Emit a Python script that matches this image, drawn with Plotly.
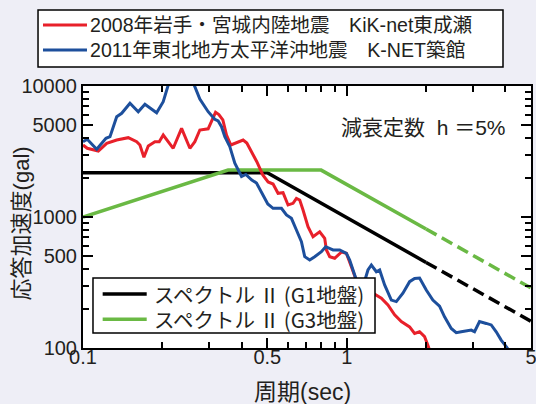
import math
import plotly.graph_objects as go

# ---- data ----
period_red = [0.1, 0.1038, 0.1143, 0.123, 0.1342, 0.1485, 0.1598, 0.1644, 0.1702, 0.1768,
              0.1874, 0.1946, 0.2015, 0.2105, 0.2198, 0.2365, 0.2543, 0.2656, 0.2774, 0.2983,
              0.3054, 0.3182, 0.3275, 0.3391, 0.3502, 0.3636, 0.4048, 0.4181, 0.4562, 0.4806,
              0.5034, 0.5258, 0.5491, 0.5736, 0.5992, 0.6259, 0.6447, 0.6636, 0.683, 0.7134,
              0.7452, 0.79, 0.8254, 0.8377, 0.8622, 0.9006, 0.9548, 0.9974, 1.0418, 1.1035,
              1.17, 1.2584, 1.3535, 1.4335, 1.5199, 1.6113, 1.7322, 1.8093, 1.8899, 1.974,
              2.032, 2.063]
sa_red = [3545, 3346, 3191, 3653, 3871, 4031, 3757, 3545, 2856, 3483,
          3757, 3757, 4226, 3757, 3346, 4754, 3346, 3757, 4614, 4712,
          5192, 6298, 6059, 5502, 4226, 3545, 3871, 3672, 2643, 2093,
          1850, 1786, 1517, 1533, 1235, 1272, 1389, 1349, 1131, 843,
          707, 772, 688, 560, 498, 484, 540, 528, 418, 303,
          269, 262, 240, 213, 179, 159, 145, 129, 133, 122,
          105, 96]

period_blue = [0.1, 0.1038, 0.1127, 0.1222, 0.1266, 0.1342, 0.1402, 0.1507, 0.162, 0.1717,
               0.1902, 0.2015, 0.2105, 0.235, 0.264, 0.2774, 0.2983, 0.3162, 0.3255, 0.3352,
               0.345, 0.3604, 0.3765, 0.3821, 0.3992, 0.4144, 0.4367, 0.455, 0.4765, 0.5021,
               0.5258, 0.5657, 0.5909, 0.6172, 0.6447, 0.6735, 0.6932, 0.7241, 0.7563, 0.8018,
               0.8324, 0.8876, 0.9408, 0.9974, 1.0265, 1.0882, 1.1527, 1.2041, 1.2404, 1.2957,
               1.3335, 1.3928, 1.4767, 1.5425, 1.6339, 1.7322, 1.8093, 1.8899, 2.0034, 2.1221,
               2.2497, 2.3503, 2.492, 2.603, 2.719, 2.968, 3.054, 3.19, 3.382, 3.533,
               3.69, 3.854, 4.082]
sa_blue = [3757, 3920, 3288, 3990, 4104, 5832, 6187, 7378, 6364, 7250,
           6253, 7588, 10177, 18000, 10177, 7960, 6364, 5569, 5405, 4890,
           4104, 3441, 2570, 2421, 2038, 2111, 1916, 1818, 1525, 1257,
           1165, 1165, 1036, 977, 796, 648, 498, 470, 498, 543,
           593, 560, 560, 528, 470, 330, 294, 394, 430, 382,
           394, 303, 232, 226, 262, 321, 340, 342, 277, 232,
           209, 173, 141, 131, 133, 137, 133, 159, 154, 150,
           133, 115, 99]

g1_period = [0.1, 0.5, 2.0]
g1_sa = [2180, 2180, 450]
g1_period_ext = [2.0, 5.0]
g1_sa_ext = [450, 160]

g3_period = [0.1, 0.355, 0.8, 2.0]
g3_sa = [1000, 2280, 2280, 810]
g3_period_ext = [2.0, 5.0]
g3_sa_ext = [810, 287]

x_tickvals = [0.1, 0.5, 1, 5]
x_ticktext = ["0.1", "0.5", "1", "5"]
x_minor = [0.2, 0.3, 0.4, 0.6, 0.7, 0.8, 0.9, 2, 3, 4]
y_tickvals = [100, 500, 1000, 5000, 10000]
y_ticktext = ["100", "500", "1000", "5000", "10000"]
y_minor = [200, 300, 400, 600, 700, 800, 900, 2000, 3000, 4000, 6000, 7000, 8000, 9000]

name_red = "2008年岩手・宮城内陸地震　KiK-net東成瀬"
name_blue = "2011年東北地方太平洋沖地震　K-NET築館"
name_g1 = "スペクトル\u2009Ⅱ\u2009(G1地盤)"
name_g3 = "スペクトル\u2009Ⅱ\u2009(G3地盤)"

FONT = "Liberation Sans, Arial, Noto Sans CJK JP, sans-serif"
FONT_CJK = "Noto Sans CJK JP, Liberation Sans, sans-serif"
RED = "#E8202A"
BLUE = "#1D4F9C"
GREEN = "#6AB944"
BLACK = "#000000"
TXT = "#231F20"

fig = go.Figure()
fig.add_trace(go.Scatter(x=g1_period, y=g1_sa, mode="lines", name="G1",
                         line=dict(color=BLACK, width=3.5)))
fig.add_trace(go.Scatter(x=g1_period_ext, y=g1_sa_ext, mode="lines",
                         line=dict(color=BLACK, width=3.5, dash="12px,6px")))
fig.add_trace(go.Scatter(x=g3_period, y=g3_sa, mode="lines", name="G3",
                         line=dict(color=GREEN, width=3.5)))
fig.add_trace(go.Scatter(x=g3_period_ext, y=g3_sa_ext, mode="lines",
                         line=dict(color=GREEN, width=3.5, dash="12px,6px")))
fig.add_trace(go.Scatter(x=period_red, y=sa_red, mode="lines", name="2008",
                         line=dict(color=RED, width=3)))
fig.add_trace(go.Scatter(x=period_blue, y=sa_blue, mode="lines", name="2011",
                         line=dict(color=BLUE, width=3)))

axis_common = dict(type="log", showgrid=False, zeroline=False, showline=True,
                   linecolor=BLACK, linewidth=2, mirror="ticks", ticks="inside",
                   ticklen=10, tickwidth=1.5, tickcolor=BLACK, ticklabeloverflow="allow",
                   tickfont=dict(size=20, color=TXT, family=FONT))

fig.update_xaxes(**axis_common, range=[-1, math.log10(5) + 1e-6], tickmode="array",
                 tickvals=x_tickvals, ticktext=x_ticktext, ticklabelstandoff=-10,
                 minor=dict(tickmode="array", tickvals=x_minor, ticks="inside",
                            ticklen=6, tickwidth=1.5, tickcolor=BLACK, showgrid=False))
fig.update_yaxes(**axis_common, range=[2, 4], tickmode="array",
                 tickvals=y_tickvals, ticktext=y_ticktext,
                 minor=dict(tickmode="array", tickvals=y_minor, ticks="inside",
                            ticklen=6, tickwidth=1.5, tickcolor=BLACK, showgrid=False))

# axis titles and note
fig.add_annotation(text="周期(sec)", xref="paper", yref="paper", x=0.489, y=-0.169,
                   xanchor="center", yanchor="middle", showarrow=False,
                   font=dict(size=23, color=TXT, family=FONT))
fig.add_annotation(text="応答加速度(gal)", textangle=-90, xref="paper", yref="paper",
                   x=-0.1384, y=0.4756, xanchor="center", yanchor="middle", showarrow=False,
                   font=dict(size=22, color=TXT, family=FONT))
fig.add_annotation(text="減衰定数  h ＝5%", xref="paper", yref="paper",
                   x=0.9487, y=0.8397, xanchor="right", yanchor="middle", showarrow=False,
                   font=dict(size=21, color=TXT, family=FONT))

# legends drawn as boxes, sample lines and text
shapes = [
    dict(type="rect", xref="paper", yref="paper", x0=-0.1004, x1=0.9375, y0=1.0725, y1=1.2901,
         fillcolor="white", line=dict(color=BLACK, width=1.5), layer="above"),
    dict(type="line", xref="paper", yref="paper", x0=-0.0893, x1=0.0089, y0=1.2328, y1=1.2328,
         line=dict(color=RED, width=3), layer="above"),
    dict(type="line", xref="paper", yref="paper", x0=-0.0893, x1=0.0089, y0=1.1374, y1=1.1374,
         line=dict(color=BLUE, width=3), layer="above"),
    dict(type="rect", xref="paper", yref="paper", x0=0.0223, x1=0.6518, y0=0.0573, y1=0.2672,
         fillcolor="white", line=dict(color=BLACK, width=1.5), layer="above"),
    dict(type="line", xref="paper", yref="paper", x0=0.0439, x1=0.1422, y0=0.2061, y1=0.2061,
         line=dict(color=BLACK, width=3.5), layer="above"),
    dict(type="line", xref="paper", yref="paper", x0=0.0439, x1=0.1422, y0=0.1095, y1=0.1095,
         line=dict(color=GREEN, width=3.5), layer="above"),
]
fig.update_layout(shapes=shapes)

legend_texts = [
    (name_red, 0.0112, 1.2328, 19.6, FONT),
    (name_blue, 0.0112, 1.1374, 19.6, FONT),
    (name_g1, 0.1533, 0.2061, 20.5, FONT_CJK),
    (name_g3, 0.1533, 0.1095, 20.5, FONT_CJK),
]
for txt, lx, ly, fs, fam in legend_texts:
    fig.add_annotation(text=txt, xref="paper", yref="paper", x=lx, y=ly,
                       xanchor="left", yanchor="middle", showarrow=False,
                       font=dict(size=fs, color=TXT, family=fam))

fig.update_layout(
    width=536, height=404,
    margin=dict(l=83, r=5, t=86, b=56, autoexpand=False),
    paper_bgcolor="#EEEEF6", plot_bgcolor="white",
    font=dict(family=FONT, size=19, color=TXT),
    showlegend=False,
)

fig.write_html("out.html", config={"displayModeBar": False},
               post_script="document.body.style.margin='0px';")
